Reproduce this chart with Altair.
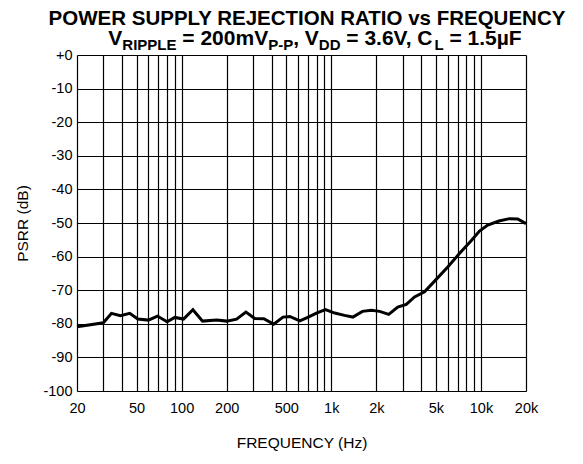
import altair as alt
import pandas as pd

# ---- data ----
freq = [20, 30, 34, 39, 45, 51, 60, 69, 80, 90, 103, 119, 138, 172, 200, 233, 269, 308,
        354, 412, 476, 528, 616, 702, 796, 914, 1054, 1226, 1394, 1614, 1852, 2104, 2420,
        2780, 3170, 3600, 4200, 4900, 6000, 7180, 8600, 9780, 11100, 13200, 15500, 17600, 20000]
psrr = [-80.9, -79.7, -76.9, -77.6, -76.9, -78.6, -78.9, -77.7, -79.4, -78.1, -78.6, -75.8,
        -79.2, -78.9, -79.2, -78.6, -76.5, -78.4, -78.5, -80.1, -78.0, -77.8, -79.1, -78.0,
        -76.8, -75.8, -76.8, -77.5, -78.0, -76.3, -76.0, -76.3, -77.2, -75.0, -74.2, -72.0,
        -70.5, -67.3, -63.1, -59.1, -55.3, -52.4, -50.6, -49.4, -48.7, -48.8, -50.2]

x_grid = [20, 30, 40, 50, 60, 70, 80, 90, 100, 200, 300, 400, 500, 600, 700, 800, 900,
          1000, 2000, 3000, 4000, 5000, 6000, 7000, 8000, 9000, 10000, 20000]
x_labeled = [20, 50, 100, 200, 500, 1000, 2000, 5000, 10000, 20000]
y_ticks = [0, -10, -20, -30, -40, -50, -60, -70, -80, -90, -100]

title1 = "POWER SUPPLY REJECTION RATIO vs FREQUENCY"
# subtitle pieces: (text, is_subscript)
subtitle = [("V", False), ("RIPPLE", True), (" = 200mV", False), ("P-P", True),
            (", V", False), ("DD", True), (" = 3.6V, C", False), ("L", True),
            (" = 1.5µF", False)]

W, H = 449, 336
FONT = "Liberation Sans"

df = pd.DataFrame({"freq": freq, "psrr": psrr})

label_list = ",".join(str(v) for v in x_labeled)
x_label_expr = (f"indexof([{label_list}], datum.value) >= 0 ? "
                "(datum.value >= 1000 ? (datum.value/1000) + 'k' : '' + datum.value) : ''")

line = alt.Chart(df).mark_line(color="black", strokeWidth=3).encode(
    x=alt.X("freq:Q",
            scale=alt.Scale(type="log", domain=[20, 20000], nice=False),
            axis=alt.Axis(values=x_grid, labelExpr=x_label_expr, labelOverlap=False,
                          labelFlush=False, ticks=False, domain=False,
                          grid=True, gridColor="black", gridWidth=1.2, gridOpacity=1,
                          labelFont=FONT, labelFontSize=14.5, labelColor="black",
                          labelPadding=10,
                          title="FREQUENCY (Hz)", titleFont=FONT, titleFontSize=15.5,
                          titleFontWeight="normal", titleColor="black",
                          titleY=51, titleBaseline="middle")),
    y=alt.Y("psrr:Q",
            scale=alt.Scale(domain=[-100, 0], nice=False),
            axis=alt.Axis(values=y_ticks,
                          labelExpr="datum.value == 0 ? '+0' : '' + datum.value",
                          ticks=False, domain=False,
                          grid=True, gridColor="black", gridWidth=1.2, gridOpacity=1,
                          labelFont=FONT, labelFontSize=14.5, labelColor="black",
                          labelPadding=5,
                          title="PSRR (dB)", titleFont=FONT, titleFontSize=15.5,
                          titleFontWeight="normal", titleColor="black",
                          titleX=-55, titleY=H / 2, titleAngle=-90,
                          titleBaseline="middle", titleAlign="center")),
)

# ---- title line 1 ----
T1 = 20.5
t1 = alt.Chart(pd.DataFrame({"t": [title1]})).mark_text(
    font=FONT, fontSize=T1, fontWeight="bold", color="black", align="center",
    baseline="alphabetic").encode(
    text="t:N", x=alt.value(230), y=alt.value(-30.5))

# ---- subtitle with subscripts (layout from approximate Arial-bold advance widths) ----
adv = {"V": 667, "R": 722, "I": 278, "P": 667, "L": 611, "E": 667, " ": 278, "=": 584,
       "2": 556, "0": 556, "m": 889, "-": 333, ",": 278, "D": 722, "3": 556, ".": 278,
       "6": 556, "C": 722, "1": 556, "5": 556, "µ": 577, "F": 611}
MAIN, SUB = 21, 15
widths = [sum(adv.get(c, 600) for c in s) / 1000 * (SUB if sub else MAIN) for s, sub in subtitle]
total = sum(widths)
cx = 238
pos = cx - total / 2
rows = []
for (s, sub), w in zip(subtitle, widths):
    size = SUB if sub else MAIN
    lead = len(s) - len(s.lstrip(" "))
    rows.append({"t": s.strip(), "px": pos + lead * 0.278 * size, "sub": sub})
    pos += w
sub_df = pd.DataFrame(rows)

st_main = alt.Chart(sub_df[~sub_df["sub"]]).mark_text(
    font=FONT, fontSize=MAIN, fontWeight="bold", color="black", align="left",
    baseline="alphabetic").encode(
    text="t:N",
    x=alt.X("px:Q", scale=alt.Scale(domain=[0, W], range=[0, W]), axis=None),
    y=alt.value(-10))
st_sub = alt.Chart(sub_df[sub_df["sub"]]).mark_text(
    font=FONT, fontSize=SUB, fontWeight="bold", color="black", align="left",
    baseline="alphabetic").encode(
    text="t:N",
    x=alt.X("px:Q", scale=alt.Scale(domain=[0, W], range=[0, W]), axis=None),
    y=alt.value(-5.5))

chart = alt.layer(line, t1, st_main, st_sub).resolve_scale(x="independent").properties(
    width=W, height=H,
    autosize=alt.AutoSizeParams(type="none"),
    padding={"left": 69, "top": 47, "right": 49, "bottom": 60},
).configure_view(stroke="black", strokeWidth=2).configure(background="white")

chart.save("out.html", embed_options={"renderer": "svg", "actions": False})
